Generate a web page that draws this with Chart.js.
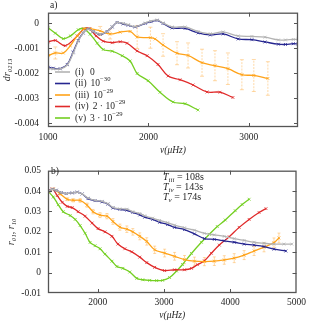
<!DOCTYPE html>
<html>
<head>
<meta charset="utf-8">
<script src="https://cdn.jsdelivr.net/npm/chart.js@4.4.1/dist/chart.umd.min.js"></script>
<style>
html, body { margin: 0; padding: 0; background: #fff; overflow: hidden; }
#wrap { position: relative; width: 310px; height: 322px; }
canvas { position: absolute; left: 0; }
#topChart { top: -2px; }
#botChart { top: 158px; }
</style>
</head>
<body>
<div id="wrap">
  <canvas id="topChart" width="310" height="162"></canvas>
  <canvas id="botChart" width="310" height="164"></canvas>
</div>
<script>
// ---- panel a) dr0213 ----
const topX = [1003,1053,1122,1192,1251,1301,1350,1400,1450,1520,1589,1639,1689,1748,1798,1868,1968,2027,2087,2146,2236,2365,2495,2616,2744,2894,3031,3161,3295,3365,3443,3490];
const topGray = [-0.00179,-0.00182,-0.00182,-0.00166,-0.00118,-0.00071,-0.00039,-0.00023,-0.00032,-0.00043,-0.00032,-0.00013,0.00004,0,-0.00005,-0.00013,0.00002,0.00009,0.00014,0.00002,-0.00014,-0.00014,-0.00032,-0.00041,-0.00034,-0.0005,-0.00052,-0.00055,-0.00066,-0.00066,-0.00064,-0.00064];
const topBlue = [-0.00175,-0.00179,-0.00181,-0.00164,-0.00114,-0.00068,-0.00038,-0.00022,-0.00032,-0.00044,-0.00032,-0.00014,0.00004,-0.00002,-0.00007,-0.00014,0,0.00007,0.00012,0,-0.00018,-0.0002,-0.00038,-0.00046,-0.00042,-0.00062,-0.00065,-0.00074,-0.00083,-0.00084,-0.00081,-0.00082];
const topOrangeX = [1003,1073,1152,1222,1291,1361,1420,1520,1619,1719,1818,1888,2020,2067,2146,2285,2395,2534,2663,2792,2931,3050,3190];
const topOrange = [-0.00129,-0.00118,-0.00118,-0.00089,-0.0005,-0.00021,-0.00021,-0.0003,-0.00042,-0.00035,-0.00032,-0.00054,-0.00057,-0.00062,-0.00086,-0.00119,-0.00128,-0.00157,-0.00169,-0.00181,-0.00205,-0.00208,-0.0022];
const topOrangeErr = [0,0.00024,0,0,0,0,0,0.00018,0.0002,0,0,0.00046,0.00042,0,0.00045,0.00046,0.0005,0.00054,0.0006,0.00063,0.0006,0.00064,0.00067];
const topRedX = [1003,1073,1172,1291,1361,1411,1480,1550,1639,1719,1788,1888,1987,2096,2196,2315,2445,2584,2713,2842];
const topRed = [-0.00074,-0.00068,-0.00089,-0.0005,-0.00021,-0.00021,-0.0005,-0.00071,-0.00077,-0.00073,-0.00079,-0.0011,-0.00129,-0.00164,-0.0021,-0.00225,-0.00246,-0.00274,-0.00275,-0.00296];
const topGreenX = [1003,1073,1152,1222,1301,1351,1420,1490,1550,1639,1739,1818,1888,1997,2116,2246,2365,2494];
const topGreen = [-0.00018,-0.00039,-0.00061,-0.0005,-0.00025,-0.00021,-0.00043,-0.00079,-0.00104,-0.00111,-0.00129,-0.0015,-0.002,-0.00229,-0.00275,-0.00314,-0.00321,-0.00346];
const topXTicks = [1000, 2000, 3000];
const topYTicks = [-0.004, -0.003, -0.002, -0.001, 0];

// ---- panel b) r01, r10 ----
const botBlueX = [1255,1315,1375,1450,1525,1615,1690,1765,1855,1960,2065,2155,2230,2335,2440,2530,2635,2710,2830,2935,3055,3160,3310,3460,3610,3760,3910,4060,4210,4360,4510,4660,4840];
const botBlue = [0.040,0.0409,0.0404,0.0393,0.0388,0.0391,0.0395,0.0386,0.0363,0.0353,0.0347,0.0336,0.0317,0.031,0.0306,0.0295,0.0283,0.0272,0.0261,0.0247,0.0236,0.0222,0.0211,0.019,0.0167,0.0163,0.0156,0.0149,0.014,0.0135,0.0128,0.0115,0.0106];
const botGrayX = [1255,1315,1375,1450,1525,1615,1690,1765,1855,1960,2065,2155,2230,2335,2440,2530,2635,2710,2830,2935,3055,3160,3310,3460,3610,3760,3910,4060,4210,4360,4510,4660,4810,4930];
const botGray = [0.040,0.0409,0.0404,0.0393,0.0388,0.0391,0.0395,0.0386,0.0366,0.0354,0.035,0.0338,0.032,0.0313,0.0311,0.0299,0.029,0.0279,0.0267,0.0256,0.0245,0.0233,0.022,0.0208,0.0193,0.0185,0.0178,0.0167,0.0158,0.0149,0.0144,0.014,0.014,0.014];
const botOrangeX = [1255,1330,1435,1540,1630,1735,1840,1930,2035,2140,2230,2335,2440,2530,2635,2740,2860,3010,3160,3310,3460,3610,3760,3910,4060,4210,4360,4510,4660,4735];
const botOrange = [0.0398,0.041,0.0386,0.036,0.0355,0.0354,0.0331,0.0299,0.0282,0.0277,0.0251,0.0223,0.0213,0.02,0.0178,0.0153,0.0112,0.0096,0.008,0.0064,0.0056,0.0054,0.0056,0.0062,0.0071,0.0086,0.0106,0.0125,0.0147,0.017];
const botOrangeErr = [0.0003,0.0004,0.0005,0.0007,0.0008,0.0009,0.001,0.0011,0.0012,0.0013,0.0014,0.0015,0.0016,0.0016,0.0017,0.0018,0.0018,0.0019,0.0019,0.002,0.002,0.002,0.0021,0.0021,0.0022,0.0022,0.0022,0.0023,0.0023,0.0024];
const botRedX = [1255,1315,1390,1465,1540,1615,1705,1810,1915,2005,2110,2215,2305,2410,2515,2635,2740,2860,3010,3160,3310,3415,3505,3610,3715,3835,3985,4135,4285,4435,4540];
const botRed = [0.0401,0.041,0.0378,0.0345,0.0325,0.0319,0.0299,0.0277,0.0243,0.0216,0.02,0.0178,0.014,0.0117,0.0102,0.0076,0.0049,0.0026,0.001,0.0014,0.0014,0.0021,0.0039,0.0058,0.0095,0.0135,0.0176,0.0222,0.0261,0.0295,0.0314];
const botGreenX = [1255,1330,1405,1480,1585,1660,1735,1810,1885,1960,2035,2110,2215,2290,2380,2485,2590,2680,2785,2890,2980,3085,3190,3280,3415,3565,3685,3805,3925,4075,4180,4285];
const botGreen = [0.0398,0.0371,0.0333,0.0299,0.028,0.0261,0.0231,0.0193,0.0148,0.0132,0.0117,0.0091,0.0056,0.003,0.0021,0.0003,-0.0028,-0.0035,-0.0038,-0.0039,-0.0038,-0.0024,0.0008,0.004,0.0094,0.0149,0.0188,0.0226,0.0258,0.0304,0.0334,0.036];
const botXTicks = [2000, 3000, 4000, 5000];
const botYTicks = [-0.01, 0, 0.01, 0.02, 0.03, 0.04, 0.05];

// legend + notes
const legendNames = ['(i)', '(ii)', '(iii)', '(iv)', '(v)'];
const legendCoef = ['0', '', '', '2 · ', '3 · '];
const legendPow = ['', '−30', '−29', '−29', '−29'];
const periodNames = ['iii', 'iv', 'v'];
const periodValues = ['108s', '143s', '174s'];

const colGray = '#b3b3b3';
const colBlue = '#25258f';
const colOrange = '#ffa31a';
const colRed = '#e02a2a';
const colGreen = '#74cf22';
const textColor = '#262626';
const serif = "'Liberation Serif', serif";

Chart.defaults.font.family = serif;
Chart.defaults.font.size = 9.5;
Chart.defaults.color = textColor;

function series(label, xs, ys, color, errors) {
    return {
        label: label,
        data: xs.map((x, i) => ({ x: x, y: ys[i] })),
        errors: errors,
        borderColor: color,
        backgroundColor: color,
        pointBorderColor: color,
        borderWidth: 1.3,
        tension: 0.35,
        pointStyle: 'crossRot',
        pointRadius: 2,
        pointBorderWidth: 0.8,
        fill: false
    };
}

function drawRich(ctx, x, y, segs, size) {
    segs.forEach(s => {
        const fs = (s.sub || s.sup) ? size * 0.7 : size;
        ctx.font = (s.it ? 'italic ' : '') + fs + 'px ' + serif;
        const dy = s.sub ? size * 0.3 : (s.sup ? -size * 0.4 : 0);
        ctx.fillText(s.t, x, y + dy);
        x += ctx.measureText(s.t).width;
    });
    return x;
}

const fmt = v => Number(v.toFixed(4)).toString();

const frame = {
    id: 'frame',
    afterDraw(chart) {
        const { ctx, chartArea: a, scales } = chart;
        ctx.save();
        ctx.strokeStyle = '#555';
        ctx.lineWidth = 1;
        ctx.beginPath();
        scales.x.ticks.forEach(t => {
            const px = Math.round(scales.x.getPixelForValue(t.value)) + 0.5;
            if (px <= a.left + 1 || px >= a.right - 1) return;
            ctx.moveTo(px, a.bottom); ctx.lineTo(px, a.bottom - 4);
            ctx.moveTo(px, a.top); ctx.lineTo(px, a.top + 4);
        });
        scales.y.ticks.forEach(t => {
            const py = Math.round(scales.y.getPixelForValue(t.value)) + 0.5;
            if (py <= a.top + 1 || py >= a.bottom - 1) return;
            ctx.moveTo(a.left, py); ctx.lineTo(a.left + 4, py);
            ctx.moveTo(a.right, py); ctx.lineTo(a.right - 4, py);
        });
        ctx.stroke();
        ctx.lineWidth = 1.3;
        ctx.strokeRect(a.left + 0.5, a.top + 0.5, a.right - a.left - 1, a.bottom - a.top - 1);
        ctx.restore();
    }
};

const errorBars = {
    id: 'errorBars',
    beforeDatasetsDraw(chart, args, opts) {
        const { ctx, chartArea: a, scales: { x, y } } = chart;
        ctx.save();
        ctx.beginPath();
        ctx.rect(a.left, a.top, a.right - a.left, a.bottom - a.top);
        ctx.clip();
        ctx.strokeStyle = opts.color;
        ctx.lineWidth = 0.8;
        chart.data.datasets.forEach(ds => {
            if (!ds.errors) return;
            ds.data.forEach((p, i) => {
                const e = ds.errors[i];
                if (!e) return;
                const px = x.getPixelForValue(p.x);
                const y1 = y.getPixelForValue(p.y - e);
                const y2 = y.getPixelForValue(p.y + e);
                ctx.setLineDash(opts.dash || []);
                ctx.beginPath();
                ctx.moveTo(px, y1); ctx.lineTo(px, y2);
                ctx.stroke();
                ctx.setLineDash([]);
                ctx.beginPath();
                ctx.moveTo(px - opts.cap, y1); ctx.lineTo(px + opts.cap, y1);
                ctx.moveTo(px - opts.cap, y2); ctx.lineTo(px + opts.cap, y2);
                ctx.stroke();
            });
        });
        ctx.restore();
    }
};

const topNotes = {
    id: 'topNotes',
    afterDraw(chart) {
        const ctx = chart.ctx;
        ctx.save();
        ctx.fillStyle = textColor;
        ctx.textBaseline = 'middle';
        ctx.textAlign = 'left';
        drawRich(ctx, 50, 7, [{ t: 'a)' }], 9.5);
        chart.data.datasets.forEach((ds, i) => {
            const yy = 74 + i * 11.5;
            ctx.strokeStyle = ds.borderColor;
            ctx.lineWidth = 1.6;
            ctx.beginPath();
            ctx.moveTo(55, yy); ctx.lineTo(70, yy);
            ctx.stroke();
            ctx.fillStyle = textColor;
            const end = drawRich(ctx, 75, yy, [{ t: legendNames[i] }], 9.5);
            const segs = [];
            if (legendPow[i]) {
                segs.push({ t: legendCoef[i] + '10' }, { t: legendPow[i], sup: true });
            } else {
                segs.push({ t: legendCoef[i] });
            }
            drawRich(ctx, Math.max(90, end + 4), yy, segs, 9.5);
        });
        ctx.restore();
    }
};

const botNotes = {
    id: 'botNotes',
    afterDraw(chart) {
        const ctx = chart.ctx;
        ctx.save();
        ctx.fillStyle = textColor;
        ctx.textBaseline = 'middle';
        ctx.textAlign = 'left';
        drawRich(ctx, 51, 13, [{ t: 'b)' }], 9.5);
        periodNames.forEach((n, i) => {
            drawRich(ctx, 163, 19 + i * 10, [
                { t: 'T', it: true }, { t: n, it: true, sub: true }, { t: ' = ' + periodValues[i] }
            ], 10);
        });
        ctx.restore();
    }
};

function axes(xMin, xMax, xTicks, yMin, yMax, yTicks, xHeight, yTitle, yTitlePad, yTickPad, xTickPad, xTitlePad) {
    return {
        x: {
            type: 'linear', min: xMin, max: xMax,
            grid: { display: false, drawTicks: false },
            border: { display: false },
            ticks: { padding: xTickPad, callback: v => String(v), maxRotation: 0, autoSkip: false },
            afterBuildTicks: s => { s.ticks = xTicks.map(v => ({ value: v })); },
            title: { display: true, text: 'ν(μHz)', font: { style: 'italic', size: 9.5 }, padding: { top: 0, bottom: xTitlePad } },
            afterFit: s => { s.height = xHeight; }
        },
        y: {
            min: yMin, max: yMax,
            grid: { display: false, drawTicks: false },
            border: { display: false },
            ticks: { padding: yTickPad, callback: fmt, autoSkip: false },
            afterBuildTicks: s => { s.ticks = yTicks.map(v => ({ value: v })); },
            title: { display: true, text: yTitle, font: { style: 'italic', size: 10 }, padding: { top: yTitlePad, bottom: 0 } },
            afterFit: s => { s.width = 48; }
        }
    };
}

new Chart(document.getElementById('topChart'), {
    type: 'line',
    data: {
        datasets: [
            series('(i)', topX, topGray, colGray),
            series('(ii)', topX, topBlue, colBlue),
            series('(iii)', topOrangeX, topOrange, colOrange, topOrangeErr),
            series('(iv)', topRedX, topRed, colRed),
            series('(v)', topGreenX, topGreen, colGreen)
        ]
    },
    options: {
        responsive: false,
        animation: false,
        devicePixelRatio: 1,
        layout: { autoPadding: false, padding: { top: 1, right: 12, left: 0, bottom: 0 } },
        plugins: {
            legend: { display: false },
            tooltip: { enabled: false },
            errorBars: { color: 'rgba(255, 175, 70, 0.6)', cap: 2, dash: [2, 1.2] }
        },
        scales: axes(1000, 3490, topXTicks, -0.00414, 0.00043, topYTicks, 33, 'dr₀₂₁₃', 1, 9, 5, 4)
    },
    plugins: [errorBars, frame, topNotes]
});

new Chart(document.getElementById('botChart'), {
    type: 'line',
    data: {
        datasets: [
            series('(i)', botGrayX, botGray, colGray),
            series('(ii)', botBlueX, botBlue, colBlue),
            series('(iii)', botOrangeX, botOrange, colOrange, botOrangeErr),
            series('(iv)', botRedX, botRed, colRed),
            series('(v)', botGreenX, botGreen, colGreen)
        ]
    },
    options: {
        responsive: false,
        animation: false,
        devicePixelRatio: 1,
        layout: { autoPadding: false, padding: { top: 3, right: 12, left: 0, bottom: 0 } },
        plugins: {
            legend: { display: false },
            tooltip: { enabled: false },
            errorBars: { color: 'rgba(255, 175, 70, 0.6)', cap: 1.5 }
        },
        scales: axes(1250, 5000, botXTicks, -0.01, 0.05, botYTicks, 29, 'r₀₁, r₁₀', 5, 7, 4, 1)
    },
    plugins: [errorBars, frame, botNotes]
});
</script>
</body>
</html>
